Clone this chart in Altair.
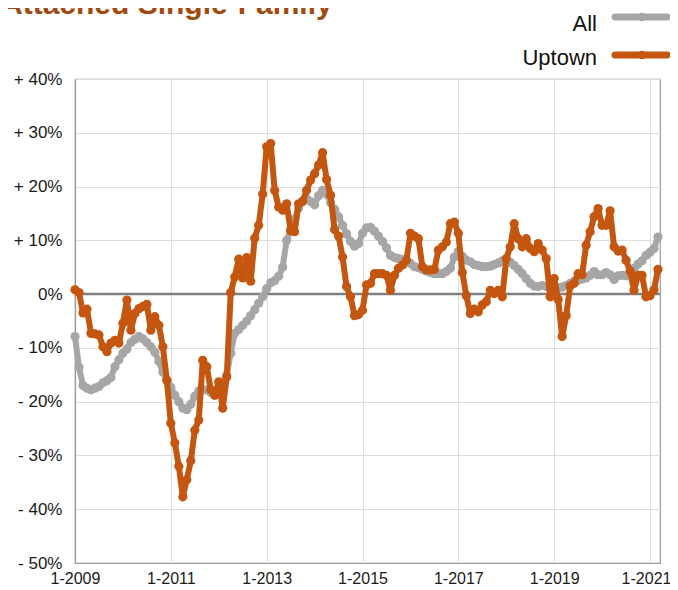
import altair as alt
import pandas as pd

# month index 0 = 1-2009
all_vals = [
    -7.9, -13.6, -17.0, -17.5, -17.8, -17.5, -17.2, -16.5, -16.1, -15.5,
    -13.5, -12.2, -11.0, -10.2, -9.0, -8.4, -7.9, -8.3, -9.0, -9.8,
    -10.8, -12.5, -14.5, -16.0, -17.3, -18.8, -20.0, -21.2, -21.5, -20.5,
    -19.0, -18.0, -17.8, -17.8, -18.3, -18.8, -18.2, -17.0, -15.0, -11.0,
    -7.3, -6.6, -5.8, -5.0, -4.0, -2.9, -1.7, -0.5, 1.0, 2.1,
    2.5, 3.3, 5.0, 10.0, 11.9, 14.0, 16.0, 17.3, 17.8, 17.2,
    16.6, 18.3, 19.3, 18.6, 17.0, 15.8, 14.4, 12.8, 11.2, 9.8,
    8.9, 9.4, 11.3, 12.3, 12.4, 11.7, 10.8, 9.8, 8.6, 7.2,
    6.8, 6.6, 6.4, 6.1, 5.7, 5.1, 4.9, 4.6, 4.3, 4.0,
    3.8, 3.8, 3.8, 4.2, 4.8, 6.9, 7.9, 7.0, 6.3, 6.0,
    5.5, 5.3, 5.1, 5.1, 5.2, 5.5, 5.8, 6.2, 6.1, 5.9,
    5.3, 4.6, 3.8, 2.9, 2.0, 1.5, 1.4, 1.6, 1.4, 1.2,
    1.1, 1.2, 1.3, 1.6, 2.0, 2.4, 2.6, 2.8, 3.0, 3.5,
    4.2, 3.6, 3.6, 4.0, 3.6, 2.7, 3.4, 3.5, 3.4, 3.8,
    4.8, 5.6, 6.2, 7.2, 7.8, 8.5, 10.6,
]

uptown_vals = [
    0.8, 0.3, -3.5, -2.8, -7.3, -7.4, -7.6, -9.8, -10.7, -9.1,
    -8.6, -9.1, -5.4, -1.1, -6.7, -3.6, -2.7, -2.3, -1.9, -6.7,
    -4.2, -5.8, -9.8, -16.0, -24.0, -27.7, -32.0, -37.7, -34.5, -31.0,
    -25.3, -23.4, -12.3, -13.5, -17.8, -18.8, -16.3, -21.2, -15.4, 0.3,
    3.2, 6.5, 3.0, 6.8, 2.4, 10.4, 12.8, 18.6, 27.4, 28.0,
    19.3, 16.2, 15.6, 16.8, 11.8, 11.6, 16.8, 17.2, 19.3, 21.2,
    22.4, 24.0, 26.3, 21.3, 18.4, 12.0, 10.8, 6.9, 1.4, -0.5,
    -4.0, -3.8, -3.0, 1.7, 2.0, 3.8, 3.8, 3.8, 3.5, 0.7,
    3.5, 4.8, 5.4, 6.3, 11.3, 10.8, 10.3, 5.1, 4.5, 4.5,
    4.6, 8.2, 8.8, 9.7, 13.1, 13.4, 11.3, 4.0, -0.3, -3.6,
    -2.8, -3.3, -2.0, -1.4, 0.7, 0.1, 0.7, -0.5, 6.6, 8.8,
    13.1, 10.3, 8.8, 10.3, 8.5, 7.9, 9.4, 8.2, 6.6, -0.5,
    2.9, -1.0, -7.9, -4.0, 1.5, 2.0, 3.8, 3.6, 9.1, 11.6,
    14.4, 15.9, 12.8, 12.8, 15.5, 8.8, 8.0, 8.2, 6.3, 4.3,
    0.7, 3.5, 3.5, -0.5, -0.3, 0.8, 4.6,
]

series_names = ["All", "Uptown"]
series_colors = ["#a6a6a6", "#c5560f"]
x_tick_values = [0, 24, 48, 72, 96, 120, 144]
y_tick_values = [-50, -40, -30, -20, -10, 0, 10, 20, 30, 40]
title_text = "Attached Single-Family"

rows = []
for name, vals in zip(series_names, [all_vals, uptown_vals]):
    for i, v in enumerate(vals):
        rows.append({"month": i, "value": v, "series": name})
df = pd.DataFrame(rows)

x_enc = alt.X(
    "month:Q",
    scale=alt.Scale(domain=[0, 146.5], nice=False, zero=False),
    axis=alt.Axis(
        values=x_tick_values,
        labelExpr="'1-' + (2009 + datum.value / 12)",
        title=None,
        grid=True,
        ticks=False,
        labelPadding=7,
        labelFlush=False,
        labelFontSize=16,
        labelOffset=alt.condition("datum.value == 144", alt.value(-4), alt.value(0)),
    ),
)
y_enc = alt.Y(
    "value:Q",
    scale=alt.Scale(domain=[-50, 40], nice=False, zero=False),
    axis=alt.Axis(
        values=y_tick_values,
        labelExpr="datum.value > 0 ? '+ ' + datum.value + '%' : (datum.value < 0 ? '- ' + abs(datum.value) + '%' : '0%')",
        title=None,
        grid=True,
        ticks=False,
        labelPadding=13,
        labelFontSize=17,
    ),
)

base = alt.Chart(df)

zero = alt.Chart(pd.DataFrame({"value": [0]})).mark_rule(
    color="#7f7f7f", strokeWidth=2.5
).encode(y=alt.Y("value:Q"))

layers = [base.mark_line(opacity=0).encode(x=x_enc, y=y_enc), zero]
for name, col in zip(series_names, series_colors):
    sub = base.transform_filter(alt.datum.series == name)
    layers.append(
        sub.mark_line(color=col, strokeWidth=6, strokeJoin="round", strokeCap="round").encode(
            x="month:Q", y="value:Q"
        )
    )
    layers.append(
        sub.mark_circle(color=col, size=85, opacity=1).encode(x="month:Q", y="value:Q")
    )

# legend (labels left of line symbols)
leg_df = pd.DataFrame({"series": series_names})
leg_y_line = [-62, -24]
leg_y_text = [-55, -21]
for i, (name, col) in enumerate(zip(series_names, series_colors)):
    d = alt.Chart(leg_df).transform_filter(alt.datum.series == name)
    layers.append(
        d.mark_text(
            align="right", baseline="middle", fontSize=22, font="Liberation Sans", color="#111111"
        ).encode(x=alt.value(522), y=alt.value(leg_y_text[i]), text="series:N")
    )
    layers.append(
        d.mark_rule(color=col, strokeWidth=7, strokeCap="round").encode(
            x=alt.value(540), x2=alt.value(592), y=alt.value(leg_y_line[i])
        )
    )
    layers.append(
        d.mark_circle(color=col, size=75, opacity=1).encode(
            x=alt.value(567), y=alt.value(leg_y_line[i])
        )
    )

title_layer = alt.Chart(pd.DataFrame({"t": [title_text]})).mark_text(
    align="left",
    baseline="alphabetic",
    fontSize=30,
    fontWeight="bold",
    font="Liberation Sans",
    color="#a04a10",
).encode(x=alt.value(-74), y=alt.value(-65), text="t:N")
layers.append(title_layer)

chart = (
    alt.layer(*layers)
    .properties(
        width=585,
        height=484,
        padding={"left": 67, "top": 71, "right": 10, "bottom": 22},
        autosize=alt.AutoSizeParams(type="none"),
        background="white",
    )
    .configure_view(stroke="#9a9a9a", strokeWidth=1.2)
    .configure_axis(
        gridColor="#dedede",
        gridWidth=1,
        domainColor="#9a9a9a",
        domainWidth=1.2,
        labelFont="Liberation Sans",
        labelFontSize=16,
        labelColor="#1a1a1a",
    )
)

chart.save("out.html", embed_options={"renderer": "svg", "actions": False})
